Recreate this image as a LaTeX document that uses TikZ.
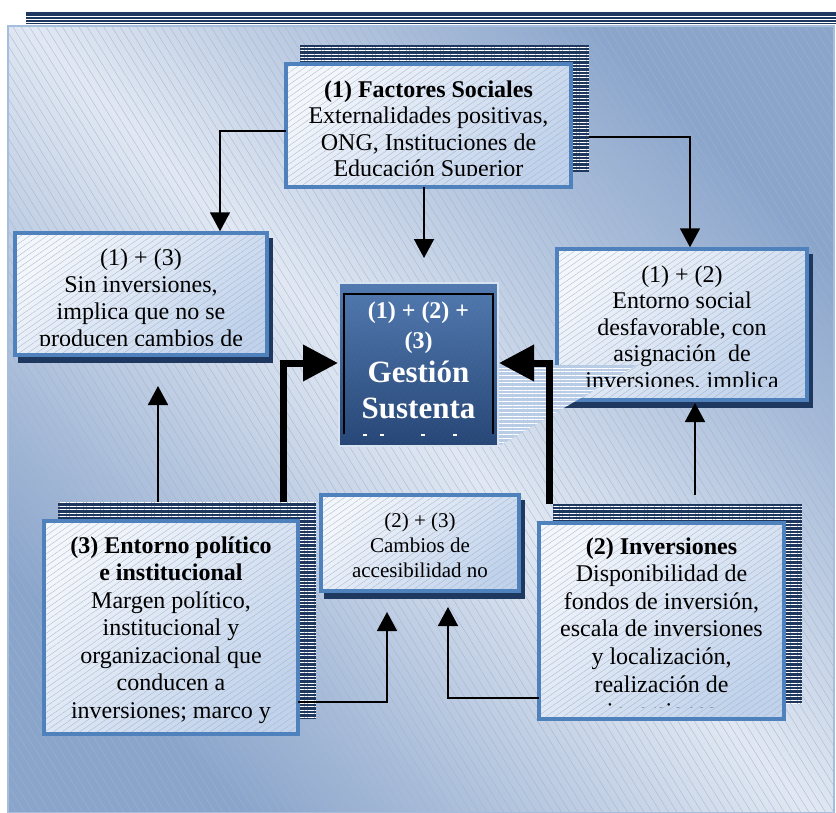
\documentclass[tikz,border=0pt]{standalone}
\usepackage{fontspec}
\setmainfont{Liberation Serif}
\usetikzlibrary{arrows.meta,patterns.meta,shadings}
\definecolor{navy}{RGB}{31,56,96}
\definecolor{boxborder}{RGB}{79,129,189}
\definecolor{boxlight}{RGB}{243,246,251}
\definecolor{boxdark}{RGB}{193,211,236}
\definecolor{bgdark}{RGB}{138,165,204}
\definecolor{bglight}{RGB}{225,232,243}
\definecolor{ctop}{RGB}{82,122,176}
\definecolor{cbot}{RGB}{38,70,118}
\definecolor{shadeblue}{RGB}{184,204,230}
\definecolor{panelborder}{RGB}{165,190,222}
\definecolor{hatchc}{RGB}{165,178,198}
\definecolor{cborder}{RGB}{215,227,240}
\begin{document}
\begin{tikzpicture}[x=1pt,y=-1pt,
  box/.style={rectangle, inner sep=0pt, outer sep=0pt},
  boxpaint/.style={draw=boxborder, line width=3.5pt,
     preaction={top color=boxlight, bottom color=boxdark, shading angle=45},
     preaction={pattern={Lines[angle=35,distance=5pt,line width=0.3pt]}, pattern color=hatchc, fill opacity=0.4}},
  stripes/.style={fill=navy, postaction={pattern={Lines[angle=0,distance=3.4pt,line width=0.5pt]}, pattern color=white}},
  solidshadow/.style={fill=navy},
  txt/.style={align=center, anchor=base, inner sep=0pt, font={\fontsize{24}{26.5}\selectfont}},
  ctxt/.style={anchor=base, inner sep=0pt, text=white},
  thin/.style={line width=1.8pt, line join=miter, -{Triangle[length=19pt,width=20pt]}},
  thick/.style={line width=7pt, line join=miter, -{Triangle[length=35pt,width=35pt]}}
]
\useasboundingbox (0,0) rectangle (836,812);

% background panel
\shade[top color=bgdark, bottom color=bgdark, middle color=bglight, shading angle=-45] (8,26) rectangle (834,812);
\fill[pattern={Lines[angle=-58,distance=7pt,line width=0.3pt]}, pattern color=hatchc, fill opacity=0.35] (8,26) rectangle (834,812);
\draw[panelborder, line width=2pt] (8,26) rectangle (834,813);

% top striped bar
\fill[navy] (26,12) rectangle (836,24);
\foreach \yy in {15.9,19.3,22.3} \draw[white, line width=0.8pt] (26,\yy) -- (836,\yy);

% box placement
\path node[box, minimum width=285pt, minimum height=123pt] (F) at (428.5,125.5) {};
\path node[box, minimum width=252pt, minimum height=122pt] (L) at (141,294) {};
\path node[box, minimum width=250pt, minimum height=151pt] (R) at (682,324.5) {};
\path node[box, minimum width=198pt, minimum height=96pt] (M) at (420,543) {};
\path node[box, minimum width=254pt, minimum height=213pt] (BL) at (171,627.5) {};
\path node[box, minimum width=245pt, minimum height=196pt] (BR) at (661.5,621) {};
\path node[box, minimum width=159pt, minimum height=163pt] (C) at (418.5,364.5) {};

% shadows
\path[stripes] ([shift={(14.25pt,15.25pt)}]F.south west) rectangle ([shift={(17.75pt,18.75pt)}]F.north east);
\path[stripes] ([shift={(14.25pt,15.25pt)}]BL.south west) rectangle ([shift={(17.75pt,18.75pt)}]BL.north east);
\path[stripes] ([shift={(14.25pt,15.25pt)}]BR.south west) rectangle ([shift={(17.75pt,18.75pt)}]BR.north east);
\path[solidshadow] ([shift={(2.75pt,-8.25pt)}]L.south west) rectangle ([shift={(6.25pt,-4.75pt)}]L.north east);
\path[solidshadow] ([shift={(2.75pt,-8.25pt)}]R.south west) rectangle ([shift={(6.25pt,-4.75pt)}]R.north east);
\path[solidshadow] ([shift={(2.75pt,-8.25pt)}]M.south west) rectangle ([shift={(6.25pt,-4.75pt)}]M.north east);

% boxes
\foreach \b in {F,L,R,M,BL,BR} \path[boxpaint] (\b.south west) rectangle (\b.north east);

% light striped triangle (shadow of the centre box)
\fill[shadeblue, postaction={pattern={Lines[angle=0,distance=3.7pt,line width=0.8pt]}, pattern color=white}] (499,365) -- (637,365) -- (499,446) -- cycle;

% texts (anchor base = baseline of the last line)
\begin{scope}
\clip (F.north west) rectangle ([yshift=12pt]F.south east);
\node[txt] (Ft) at (428.5,176.5) {\textbf{(1) Factores Sociales}\\Externalidades positivas,\\ONG, Instituciones de\\Educación Superior};
\end{scope}
\begin{scope}
\clip (L.north west) rectangle ([yshift=10pt]L.south east);
\node[txt, font={\fontsize{24}{27}\selectfont}] (Lt) at (141,346) {(1) + (3)\\Sin inversiones,\\implica que no se\\producen cambios de};
\end{scope}
\begin{scope}
\clip (R.north west) rectangle ([yshift=14pt]R.south east);
\node[txt] (Rt) at (682,388) {(1) + (2)\\Entorno social\\desfavorable, con\\asignación~ de\\inversiones, implica};
\end{scope}
\node[txt, font={\fontsize{21}{25}\selectfont}] (Mt) at (420,577) {(2) + (3)\\Cambios de\\accesibilidad no};
\begin{scope}
\clip (BL.north west) rectangle ([yshift=3pt]BL.south east);
\node[txt, font={\fontsize{24}{27.5}\selectfont}] (BLt) at (171,718) {\textbf{(3) Entorno político}\\\textbf{e institucional}\\Margen político,\\institucional y\\organizacional que\\conducen a\\inversiones; marco y};
\end{scope}
\begin{scope}
\clip (BR.north west) rectangle ([yshift=12pt]BR.south east);
\node[txt, font={\fontsize{24}{27.6}\selectfont}] (BRt) at (661.5,719.6) {\textbf{(2) Inversiones}\\Disponibilidad de\\fondos de inversión,\\escala de inversiones\\y localización,\\realización de\\inversiones};
\end{scope}

% centre box
\path[draw=cborder, line width=2.5pt,
  preaction={top color=ctop, bottom color=cbot},
  preaction={pattern={Lines[angle=60,distance=4pt,line width=0.4pt]}, pattern color=white, fill opacity=0.12}]
  (C.south west) rectangle (C.north east);
\draw[black, line width=1.6pt] (344,434) -- (344,294) -- (493,294) -- (493,434);
\node[ctxt, font={\bfseries\fontsize{24}{26}\selectfont}] (c1) at (418.5,318) {(1) + (2) +};
\node[ctxt, font={\bfseries\fontsize{24}{26}\selectfont}] (c2) at (418.5,348) {(3)};
\node[ctxt, font={\bfseries\fontsize{31}{34}\selectfont}] (c3) at (418.5,382) {Gestión};
\node[ctxt, font={\bfseries\fontsize{31}{34}\selectfont}] (c4) at (418.5,418) {Sustenta};
\foreach \xx in {365,382,423,455} \draw[white, line width=1.3pt] (\xx-2,435) -- (\xx+2,435);

% connectors
\draw[thin] ([yshift=-5.5pt]F.west) -| ([xshift=79pt,yshift=1.75pt]L.north);
\draw[thin] ([xshift=18pt,yshift=-11.5pt]F.east) -| ([xshift=8pt,yshift=1.75pt]R.north);
\draw[thin] ([xshift=-4.5pt]F.south) -- ++(0,71);
\draw[thin] ([xshift=-13pt,yshift=18.75pt]BL.north) -- ([xshift=17pt,yshift=-31pt]L.south);
\draw[thin] ([xshift=33.5pt,yshift=28pt]BR.north) -- ([xshift=13pt,yshift=-3pt]R.south);
\draw[thin] ([yshift=-74.5pt]BL.east) -| ([xshift=-33pt,yshift=-21pt]M.south);
\draw[thin] ([yshift=-77pt]BR.west) -| ([xshift=28pt,yshift=-16pt]M.south);
\draw[thick] ([xshift=112pt,yshift=18.75pt]BL.north) |- ([xshift=-1pt,yshift=1.5pt]C.west);
\draw[thick] ([xshift=-112.5pt,yshift=18.75pt]BR.north) |- ([xshift=1pt,yshift=1.5pt]C.east);
\end{tikzpicture}
\end{document}
